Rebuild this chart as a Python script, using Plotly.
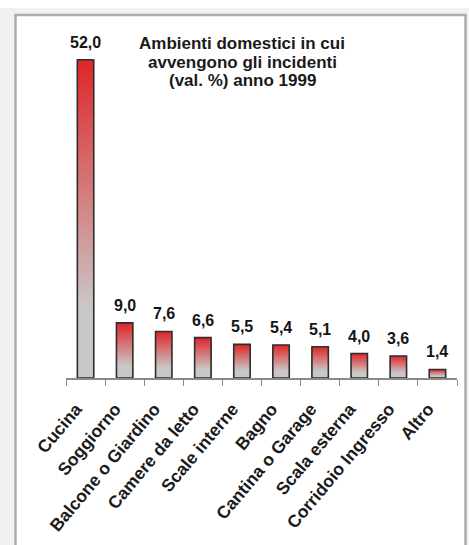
import plotly.graph_objects as go

categories = ["Cucina", "Soggiorno", "Balcone o Giardino", "Camere da letto", "Scale interne",
              "Bagno", "Cantina o Garage", "Scala esterna", "Corridoio Ingresso", "Altro"]
values = [52.0, 9.0, 7.6, 6.6, 5.5, 5.4, 5.1, 4.0, 3.6, 1.4]
value_labels = ["52,0", "9,0", "7,6", "6,6", "5,5", "5,4", "5,1", "4,0", "3,6", "1,4"]
title_lines = ["Ambienti domestici in cui", "avvengono gli incidenti", "(val. %) anno 1999"]

W, H = 469, 545
L, R, T, B = 66, 12, 20, 167
PW, PH = W - L - R, H - T - B
FONT = "Liberation Sans, Arial, sans-serif"

RED = (222, 38, 40)
GRAY = (202, 199, 199)

# displayed category text (trailing no-break spaces nudge the rotated labels left/down)
xcat = [c + "\u00a0" * 3 for c in categories]

def mix(t):
    # t: 0 bottom -> 1 top
    u = min(max((t - 0.22) / 0.78, 0.0), 1.0)
    c = [round(GRAY[k] + (RED[k] - GRAY[k]) * u) for k in range(3)]
    return f"rgb({c[0]},{c[1]},{c[2]})"

N = 60
fig = go.Figure()
# gradient: nested bars from tallest to shortest, each drawn on top of the previous
for i in range(N, 0, -1):
    fig.add_trace(go.Bar(
        x=xcat,
        y=[v * i / N for v in values],
        marker=dict(color=mix((i - 0.5) / N), line=dict(width=0)),
        hoverinfo="skip", showlegend=False,
    ))
# outline
fig.add_trace(go.Bar(
    x=xcat, y=values,
    marker=dict(color="rgba(0,0,0,0)", line=dict(color="#2e2e2e", width=1.6)),
    showlegend=False,
))

for c, v, lab in zip(xcat, values, value_labels):
    fig.add_annotation(x=c, y=v, text=f"<b>{lab}</b>", showarrow=False,
                       yanchor="bottom", yshift=7,
                       font=dict(family=FONT, size=16, color="#151515"))

def px2paper_x(px):
    return (px - L) / PW

def px2paper_y(py):
    return (H - py - B) / PH

for k, line in enumerate(title_lines):
    fig.add_annotation(x=px2paper_x(242), y=px2paper_y(43 + 19 * k), xref="paper", yref="paper",
                       text=f"<b>{line}</b>", showarrow=False,
                       xanchor="center", yanchor="middle", align="center",
                       font=dict(family=FONT, size=17, color="#1a1a1a"))

# background frame
fig.add_shape(type="rect", xref="paper", yref="paper", layer="below",
              x0=px2paper_x(0), x1=px2paper_x(W), y0=px2paper_y(H + 5), y1=px2paper_y(8),
              fillcolor="#f1f1f1", line=dict(width=0))
fig.add_shape(type="rect", xref="paper", yref="paper", layer="below",
              x0=px2paper_x(15.5), x1=px2paper_x(465.5), y0=px2paper_y(H + 20), y1=px2paper_y(15),
              fillcolor="white", line=dict(color="#b2aaaa", width=2.5))

fig.update_layout(
    width=W, height=H,
    margin=dict(l=L, r=R, t=T, b=B),
    paper_bgcolor="white", plot_bgcolor="rgba(0,0,0,0)",
    barmode="overlay", bargap=0.58,
    showlegend=False,
    xaxis=dict(showline=True, linecolor="#8a8a8a", linewidth=1.5, automargin=False,
               ticks="outside", tickson="boundaries", ticklen=6, tickcolor="#8a8a8a", tickwidth=1.2,
               tickangle=-50, showgrid=False, ticklabelstandoff=1,
               tickfont=dict(family=FONT, size=17.5, color="#1a1a1a", weight="bold")),
    yaxis=dict(visible=False, range=[0, PH / 6.12], showgrid=False, automargin=False),
)

fig.write_html("out.html")
